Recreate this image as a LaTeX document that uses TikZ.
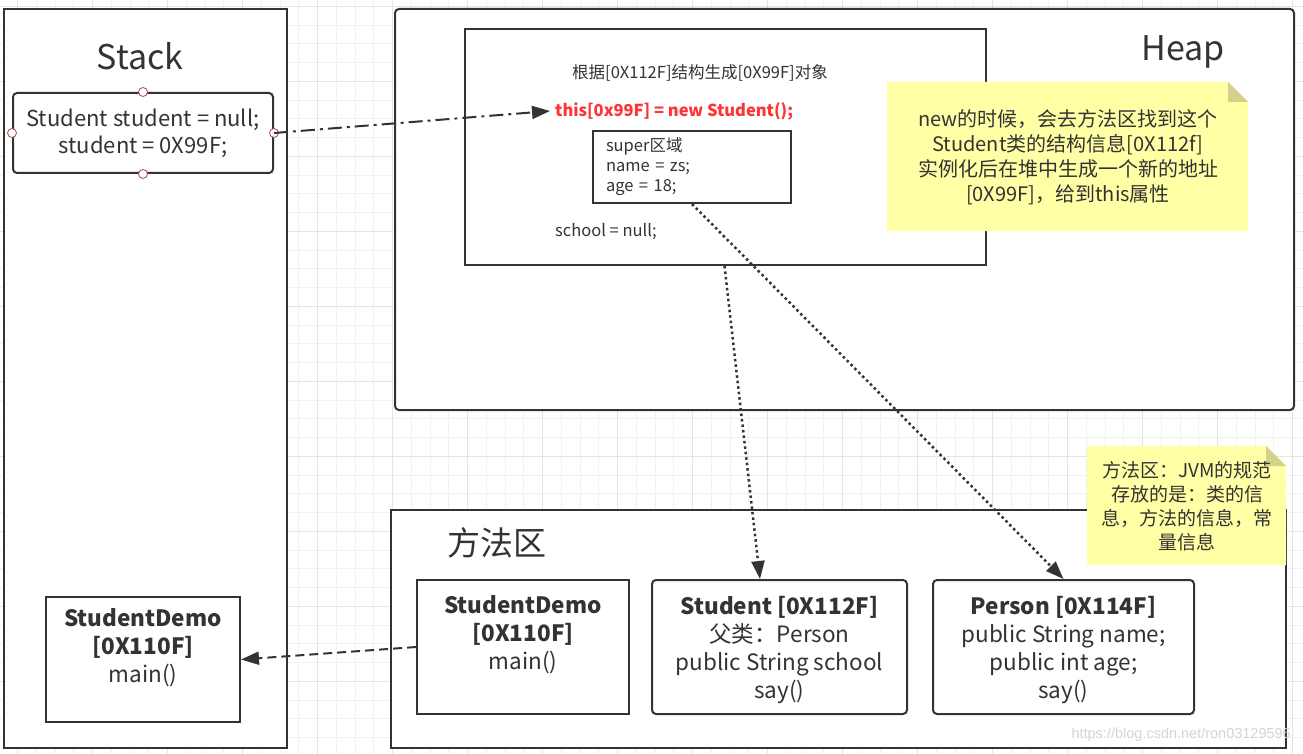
\documentclass[tikz,border=0pt]{standalone}
\usepackage{fontspec}
\setmainfont{Noto Sans CJK SC}
\newfontfamily\wmfont{Liberation Sans}
\usetikzlibrary{arrows.meta,positioning,calc}
\definecolor{ink}{HTML}{333333}
\definecolor{notefill}{HTML}{FFFFA6}
\definecolor{notefold}{HTML}{D2D28A}
\definecolor{redtext}{HTML}{FF3333}
\definecolor{gridlo}{HTML}{F1F1F1}
\definecolor{gridhi}{HTML}{E4E4E4}
\definecolor{pinred}{HTML}{A84B4B}
\definecolor{wmgray}{HTML}{D4D4D4}

% sticky note with folded corner: left, top, right, bottom
\newcommand{\stickynote}[4]{%
  \fill[notefill] (#1,#2) -- ({#3-20},#2) -- (#3,{#2+20}) -- (#3,#4) -- (#1,#4) -- cycle;
  \fill[notefold] ({#3-20},#2) -- ({#3-20},{#2+20}) -- (#3,{#2+20}) -- cycle;
}

\begin{document}
\begin{tikzpicture}[x=1pt, y=-1pt,
  frame/.style = {draw=ink, line width=2pt, fill=white, inner sep=0pt},
  cls/.style = {frame, align=center, text=ink, text depth=0pt, font=\fontsize{22.5}{28}\selectfont},
  heading/.style = {text=ink, inner sep=0pt},
  small/.style = {text=ink, inner sep=0pt, font=\fontsize{16.5}{20}\selectfont},
  dot/.style = {circle, draw=pinred, fill=white, line width=0.8pt, minimum size=9pt, inner sep=0pt},
  link/.style = {draw=ink, line width=2pt, -{Triangle[length=18pt,width=13pt]}},
  notetext/.style = {text=ink, align=center, inner sep=0pt}]
	\useasboundingbox (0,0) rectangle (1303,754);
	% grid
	\begin{scope}[shift={(17.7,6.3)}]
		\draw[gridlo, line width=1pt, step=18.75pt] (-20,-10) grid (1290,750);
		\draw[gridhi, line width=1pt, step=75pt] (-20,-10) grid (1290,750);
	\end{scope}

	% stack
	\node[frame, minimum width=283pt, minimum height=739pt] (stack) at (145.5,378.5) {};
	\node[heading, font=\fontsize{34}{40}\selectfont] (stacktitle) at (140,56) {Stack};
	\node[frame, rounded corners=4pt, minimum width=260pt, minimum height=80pt, align=center, text=ink, font=\fontsize{22}{27}\selectfont] (var) at (143,133) {Student student = null;\\student = 0X99F;};
	\foreach \s in {north,south,east,west}
		\node[dot] (var-\s) at (var.\s) {};
	\node[cls, minimum width=194pt, minimum height=125pt] (sdemo) at (143,659.5) {\textbf{StudentDemo}\\\textbf{[0X110F]}\\main()\\\strut};

	% heap
	\node[frame, rounded corners=4pt, minimum width=899pt, minimum height=401pt] (heap) at (844.5,209.5) {};
	\node[heading, font=\fontsize{34}{40}\selectfont] (heaptitle) at (1183,52) {Heap};
	\node[frame, minimum width=521pt, minimum height=236pt] (obj) at (725.5,147) {};
	\node[small] (objtitle) at (700,73) {根据[0X112F]结构生成[0X99F]对象};
	\node[small, anchor=west, inner xsep=5pt, text=redtext, font=\fontsize{16.5}{20}\selectfont\bfseries] (thisline) at (550,111) {this[0x99F] = new Student();};
	\node[frame, minimum width=198pt, minimum height=72pt, text width=172pt, align=left, text=ink, font=\fontsize{16.5}{20}\selectfont] (super) at (692,167) {super区域\\name = zs;\\age = 18;};
	\node[small, anchor=west] (school) at (555,231) {school = null;};
	\stickynote{887}{82}{1248}{231}
	\node[notetext, font=\fontsize{20}{25}\selectfont] (heapnote) at (1068,157) {new的时候，会去方法区找到这个\\Student类的结构信息[0X112f]\\实例化后在堆中生成一个新的地址\\{}[0X99F]，给到this属性};

	% method area
	\node[frame, minimum width=895pt, minimum height=238pt] (marea) at (838.5,629) {};
	\node[heading, font=\fontsize{33}{40}\selectfont] (mareatitle) at (497,543) {方法区};
	\node[cls, minimum width=212pt, minimum height=134pt] (mdemo) at (523,647) {\textbf{StudentDemo}\\\textbf{[0X110F]}\\main()\\\strut};
	\node[cls, rounded corners=4pt, minimum width=255pt, minimum height=134pt] (student) at (779.5,647) {\textbf{Student [0X112F]}\\父类：Person\\public String school\\say()};
	\node[cls, rounded corners=4pt, minimum width=261pt, minimum height=134pt] (person) at (1063.5,647) {\textbf{Person [0X114F]}\\public String name;\\public int age;\\say()};
	\stickynote{1087}{446}{1286}{565}
	\node[notetext, font=\fontsize{19}{24}\selectfont] (areanote) at (1187,506) {方法区：JVM的规范\\存放的是：类的信\\息，方法的信息，常\\量信息};
	\node[text=wmgray, font=\wmfont\fontsize{14.5}{16}\selectfont, anchor=east, inner sep=0pt] (mark) at (1291,735) {https://blog.csdn.net/ron03129596};

	% links
	\draw[link, dash pattern=on 14pt off 5pt on 3pt off 5pt] (var.east) -- (thisline.west);
	\draw[link, line width=2.5pt, dash pattern=on 2.5pt off 3pt] ([xshift=260.5pt]obj.south west) -- ([xshift=-19.5pt]student.north);
	\draw[link, line width=2.5pt, dash pattern=on 2.5pt off 3pt] (super.south) -- (person.north);
	\draw[link, dash pattern=on 9pt off 5pt] (mdemo.west) -- (sdemo.east);
\end{tikzpicture}
\end{document}
